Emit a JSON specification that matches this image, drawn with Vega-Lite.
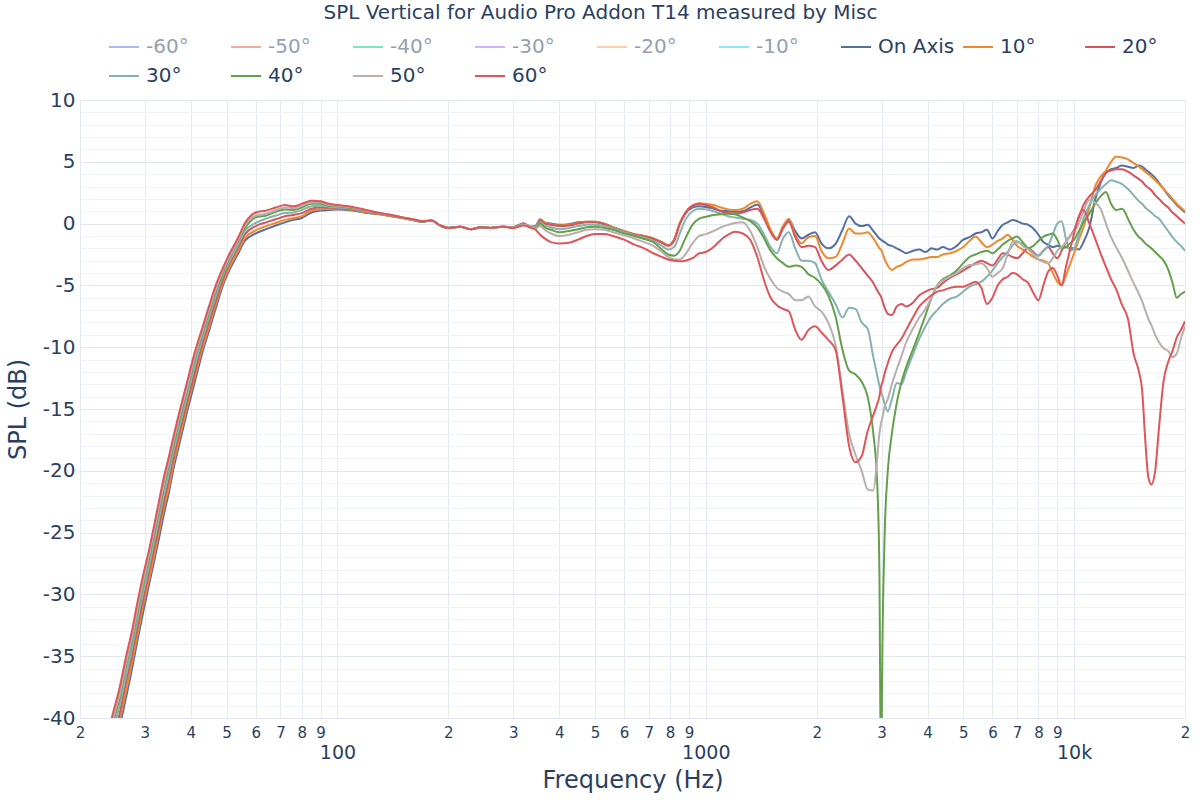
{
  "$schema": "https://vega.github.io/schema/vega-lite/v6.json",
  "width": 1105,
  "height": 618,
  "autosize": {"type": "none"},
  "padding": {"left": 80, "top": 100, "right": 15, "bottom": 82},
  "background": "white",
  "view": {"stroke": null},
  "title": {
    "text": "SPL Vertical for Audio Pro Addon T14 measured by Misc",
    "font": "DejaVu Sans",
    "fontSize": 20,
    "fontWeight": "normal",
    "color": "#2a3f5f",
    "anchor": "middle",
    "frame": "group",
    "dx": -32,
    "offset": 8
  },
  "data": {
    "values": [
      {"f": 22, "On Axis": -50, "10°": -49.5, "20°": -49.0, "30°": -48.4, "40°": -47.8, "50°": -47.5, "60°": -47.0},
      {"f": 24.4, "On Axis": -43.5, "10°": -43.0, "20°": -42.3, "30°": -41.6, "40°": -40.9, "50°": -40.5, "60°": -40.0},
      {"f": 25.6, "On Axis": -40.8, "10°": -40.3, "20°": -39.7, "30°": -39.0, "40°": -38.4, "50°": -38.1, "60°": -37.6},
      {"f": 26.6, "On Axis": -38.5, "10°": -38.0, "20°": -37.3, "30°": -36.7, "40°": -36.0, "50°": -35.7, "60°": -35.2},
      {"f": 27.7, "On Axis": -36.0, "10°": -35.5, "20°": -34.9, "30°": -34.3, "40°": -33.7, "50°": -33.4, "60°": -32.9},
      {"f": 28.7, "On Axis": -33.6, "10°": -33.1, "20°": -32.5, "30°": -31.9, "40°": -31.3, "50°": -31.0, "60°": -30.5},
      {"f": 29.7, "On Axis": -31.4, "10°": -30.9, "20°": -30.4, "30°": -29.8, "40°": -29.2, "50°": -28.9, "60°": -28.4},
      {"f": 30.8, "On Axis": -29.2, "10°": -28.8, "20°": -28.2, "30°": -27.7, "40°": -27.1, "50°": -26.8, "60°": -26.4},
      {"f": 31.8, "On Axis": -27.3, "10°": -26.9, "20°": -26.3, "30°": -25.7, "40°": -25.1, "50°": -24.8, "60°": -24.4},
      {"f": 32.8, "On Axis": -25.4, "10°": -24.9, "20°": -24.4, "30°": -23.8, "40°": -23.2, "50°": -22.9, "60°": -22.4},
      {"f": 33.8, "On Axis": -23.5, "10°": -23.0, "20°": -22.5, "30°": -21.9, "40°": -21.3, "50°": -21.0, "60°": -20.5},
      {"f": 34.9, "On Axis": -21.7, "10°": -21.3, "20°": -20.7, "30°": -20.1, "40°": -19.5, "50°": -19.2, "60°": -18.8},
      {"f": 35.9, "On Axis": -19.8, "10°": -19.4, "20°": -18.9, "30°": -18.4, "40°": -17.9, "50°": -17.6, "60°": -17.2},
      {"f": 36.9, "On Axis": -18.3, "10°": -17.9, "20°": -17.4, "30°": -16.9, "40°": -16.4, "50°": -16.1, "60°": -15.7},
      {"f": 39, "On Axis": -15.3, "10°": -14.9, "20°": -14.5, "30°": -14.0, "40°": -13.5, "50°": -13.3, "60°": -12.9},
      {"f": 41, "On Axis": -12.8, "10°": -12.4, "20°": -12.0, "30°": -11.5, "40°": -11.0, "50°": -10.8, "60°": -10.4},
      {"f": 43, "On Axis": -10.4, "10°": -10.1, "20°": -9.7, "30°": -9.3, "40°": -8.9, "50°": -8.7, "60°": -8.4},
      {"f": 45, "On Axis": -8.5, "10°": -8.2, "20°": -7.8, "30°": -7.4, "40°": -7.0, "50°": -6.8, "60°": -6.5},
      {"f": 47, "On Axis": -6.6, "10°": -6.3, "20°": -6.0, "30°": -5.6, "40°": -5.3, "50°": -5.1, "60°": -4.8},
      {"f": 49, "On Axis": -4.9, "10°": -4.7, "20°": -4.4, "30°": -4.1, "40°": -3.9, "50°": -3.7, "60°": -3.5},
      {"f": 51, "On Axis": -3.7, "10°": -3.5, "20°": -3.2, "30°": -3.0, "40°": -2.7, "50°": -2.6, "60°": -2.4},
      {"f": 53.8, "On Axis": -2.4, "10°": -2.2, "20°": -1.9, "30°": -1.7, "40°": -1.4, "50°": -1.3, "60°": -1.1},
      {"f": 56, "On Axis": -1.4, "10°": -1.2, "20°": -0.9, "30°": -0.6, "40°": -0.4, "50°": -0.2, "60°": 0.0},
      {"f": 60, "On Axis": -0.8, "10°": -0.55, "20°": -0.2, "30°": 0.05, "40°": 0.5, "50°": 0.65, "60°": 0.9},
      {"f": 64, "On Axis": -0.45, "10°": -0.2, "20°": 0.1, "30°": 0.4, "40°": 0.65, "50°": 0.8, "60°": 1.05},
      {"f": 68, "On Axis": -0.15, "10°": 0.05, "20°": 0.35, "30°": 0.65, "40°": 0.95, "50°": 1.1, "60°": 1.3},
      {"f": 72, "On Axis": 0.1, "10°": 0.3, "20°": 0.6, "30°": 0.85, "40°": 1.15, "50°": 1.3, "60°": 1.5},
      {"f": 76, "On Axis": 0.3, "10°": 0.45, "20°": 0.7, "30°": 0.9, "40°": 1.1, "50°": 1.25, "60°": 1.4},
      {"f": 80, "On Axis": 0.45, "10°": 0.6, "20°": 0.85, "30°": 1.1, "40°": 1.3, "50°": 1.45, "60°": 1.6},
      {"f": 85, "On Axis": 0.9, "10°": 1.05, "20°": 1.2, "30°": 1.4, "40°": 1.6, "50°": 1.7, "60°": 1.85},
      {"f": 90, "On Axis": 1.05, "10°": 1.15, "20°": 1.3, "30°": 1.45, "40°": 1.6, "50°": 1.7, "60°": 1.8},
      {"f": 95, "On Axis": 1.1, "10°": 1.2, "20°": 1.3, "30°": 1.35, "40°": 1.45, "50°": 1.5, "60°": 1.6},
      {"f": 100, "On Axis": 1.15, "10°": 1.2, "20°": 1.25, "30°": 1.3, "40°": 1.4, "50°": 1.45, "60°": 1.5},
      {"f": 110, "On Axis": 1.05, "10°": 1.1, "20°": 1.15, "30°": 1.2, "40°": 1.25, "50°": 1.3, "60°": 1.35},
      {"f": 120, "On Axis": 0.85, "10°": 0.9, "20°": 0.95, "30°": 1.0, "40°": 1.05, "50°": 1.05, "60°": 1.1},
      {"f": 130, "On Axis": 0.75, "10°": 0.75, "20°": 0.8, "30°": 0.8, "40°": 0.85, "50°": 0.85, "60°": 0.85},
      {"f": 140, "On Axis": 0.6, "10°": 0.6, "20°": 0.65, "30°": 0.65, "40°": 0.65, "50°": 0.7, "60°": 0.7},
      {"f": 150, "On Axis": 0.45, "10°": 0.45, "20°": 0.5, "30°": 0.5, "40°": 0.5, "50°": 0.5, "60°": 0.5},
      {"f": 160, "On Axis": 0.3, "10°": 0.3, "20°": 0.3, "30°": 0.3, "40°": 0.35, "50°": 0.35, "60°": 0.35},
      {"f": 170, "On Axis": 0.15, "10°": 0.15, "20°": 0.15, "30°": 0.15, "40°": 0.15, "50°": 0.2, "60°": 0.2},
      {"f": 180, "On Axis": 0.25, "10°": 0.25, "20°": 0.25, "30°": 0.25, "40°": 0.25, "50°": 0.25, "60°": 0.25},
      {"f": 190, "On Axis": -0.15, "10°": -0.15, "20°": -0.15, "30°": -0.15, "40°": -0.15, "50°": -0.15, "60°": -0.15},
      {"f": 200, "On Axis": -0.35, "10°": -0.35, "20°": -0.35, "30°": -0.35, "40°": -0.35, "50°": -0.35, "60°": -0.35},
      {"f": 215, "On Axis": -0.25, "10°": -0.25, "20°": -0.25, "30°": -0.25, "40°": -0.25, "50°": -0.25, "60°": -0.25},
      {"f": 230, "On Axis": -0.45, "10°": -0.45, "20°": -0.45, "30°": -0.45, "40°": -0.45, "50°": -0.45, "60°": -0.45},
      {"f": 245, "On Axis": -0.3, "10°": -0.3, "20°": -0.3, "30°": -0.3, "40°": -0.3, "50°": -0.3, "60°": -0.3},
      {"f": 260, "On Axis": -0.35, "10°": -0.35, "20°": -0.35, "30°": -0.35, "40°": -0.35, "50°": -0.35, "60°": -0.35},
      {"f": 280, "On Axis": -0.25, "10°": -0.25, "20°": -0.25, "30°": -0.25, "40°": -0.25, "50°": -0.25, "60°": -0.25},
      {"f": 300, "On Axis": -0.3, "10°": -0.3, "20°": -0.3, "30°": -0.3, "40°": -0.3, "50°": -0.3, "60°": -0.35},
      {"f": 320, "On Axis": 0.0, "10°": 0.0, "20°": 0.0, "30°": -0.05, "40°": -0.05, "50°": -0.1, "60°": -0.15},
      {"f": 335, "On Axis": -0.25, "10°": -0.25, "20°": -0.25, "30°": -0.25, "40°": -0.3, "50°": -0.3, "60°": -0.35},
      {"f": 345, "On Axis": -0.2, "10°": -0.2, "20°": -0.25, "30°": -0.3, "40°": -0.35, "50°": -0.4, "60°": -0.5},
      {"f": 355, "On Axis": 0.35, "10°": 0.3, "20°": 0.25, "30°": 0.1, "40°": 0.0, "50°": -0.2, "60°": -0.9},
      {"f": 365, "On Axis": 0.1, "10°": 0.1, "20°": 0.0, "30°": -0.15, "40°": -0.3, "50°": -0.5, "60°": -1.2},
      {"f": 380, "On Axis": 0.0, "10°": -0.05, "20°": -0.1, "30°": -0.3, "40°": -0.5, "50°": -0.8, "60°": -1.5},
      {"f": 400, "On Axis": -0.1, "10°": -0.15, "20°": -0.2, "30°": -0.45, "40°": -0.7, "50°": -1.0, "60°": -1.6},
      {"f": 425, "On Axis": -0.05, "10°": -0.1, "20°": -0.15, "30°": -0.35, "40°": -0.6, "50°": -0.9, "60°": -1.55},
      {"f": 450, "On Axis": 0.1, "10°": 0.05, "20°": 0.0, "30°": -0.2, "40°": -0.45, "50°": -0.7, "60°": -1.3},
      {"f": 475, "On Axis": 0.15, "10°": 0.15, "20°": 0.1, "30°": -0.1, "40°": -0.3, "50°": -0.5, "60°": -1.0},
      {"f": 500, "On Axis": 0.15, "10°": 0.15, "20°": 0.1, "30°": -0.1, "40°": -0.25, "50°": -0.45, "60°": -0.85},
      {"f": 530, "On Axis": 0.0, "10°": 0.0, "20°": -0.05, "30°": -0.2, "40°": -0.35, "50°": -0.5, "60°": -0.85},
      {"f": 560, "On Axis": -0.3, "10°": -0.3, "20°": -0.35, "30°": -0.4, "40°": -0.5, "50°": -0.7, "60°": -1.0},
      {"f": 600, "On Axis": -0.6, "10°": -0.6, "20°": -0.65, "30°": -0.7, "40°": -0.8, "50°": -0.95, "60°": -1.3},
      {"f": 640, "On Axis": -0.85, "10°": -0.85, "20°": -0.9, "30°": -0.95, "40°": -1.0, "50°": -1.2, "60°": -1.7},
      {"f": 680, "On Axis": -1.0, "10°": -1.0, "20°": -1.05, "30°": -1.15, "40°": -1.25, "50°": -1.5, "60°": -2.0},
      {"f": 720, "On Axis": -1.2, "10°": -1.2, "20°": -1.25, "30°": -1.4, "40°": -1.5, "50°": -1.8, "60°": -2.4},
      {"f": 760, "On Axis": -1.5, "10°": -1.5, "20°": -1.55, "30°": -1.8, "40°": -2.1, "50°": -2.3, "60°": -2.7},
      {"f": 790, "On Axis": -1.75, "10°": -1.75, "20°": -1.8, "30°": -2.1, "40°": -2.5, "50°": -2.7, "60°": -2.9},
      {"f": 820, "On Axis": -1.3, "10°": -1.3, "20°": -1.4, "30°": -1.9, "40°": -2.6, "50°": -2.9, "60°": -3.0},
      {"f": 850, "On Axis": 0.0, "10°": 0.05, "20°": -0.05, "30°": -0.8, "40°": -2.2, "50°": -2.9, "60°": -3.05},
      {"f": 880, "On Axis": 0.8, "10°": 0.9, "20°": 0.85, "30°": 0.3, "40°": -1.2, "50°": -2.5, "60°": -3.0},
      {"f": 920, "On Axis": 1.3, "10°": 1.45, "20°": 1.45, "30°": 1.0, "40°": -0.1, "50°": -1.6, "60°": -2.8},
      {"f": 960, "On Axis": 1.4, "10°": 1.65, "20°": 1.6, "30°": 1.2, "40°": 0.4, "50°": -1.0, "60°": -2.4},
      {"f": 1000, "On Axis": 1.35, "10°": 1.6, "20°": 1.5, "30°": 1.15, "40°": 0.55, "50°": -0.85, "60°": -2.3},
      {"f": 1050, "On Axis": 1.2, "10°": 1.5, "20°": 1.3, "30°": 1.0, "40°": 0.7, "50°": -0.6, "60°": -1.9},
      {"f": 1100, "On Axis": 1.05, "10°": 1.3, "20°": 1.0, "30°": 0.8, "40°": 0.75, "50°": -0.3, "60°": -1.3},
      {"f": 1150, "On Axis": 1.0, "10°": 1.15, "20°": 0.85, "30°": 0.6, "40°": 0.8, "50°": -0.1, "60°": -0.9},
      {"f": 1200, "On Axis": 0.95, "10°": 1.1, "20°": 0.8, "30°": 0.5, "40°": 0.75, "50°": 0.05, "60°": -0.65},
      {"f": 1260, "On Axis": 1.0, "10°": 1.2, "20°": 0.9, "30°": 0.4, "40°": 0.5, "50°": 0.1, "60°": -0.8},
      {"f": 1320, "On Axis": 1.3, "10°": 1.6, "20°": 1.1, "30°": 0.3, "40°": 0.2, "50°": -0.6, "60°": -1.3},
      {"f": 1380, "On Axis": 1.55, "10°": 1.8, "20°": 1.2, "30°": 0.0, "40°": -0.3, "50°": -1.9, "60°": -2.7},
      {"f": 1440, "On Axis": 0.6, "10°": 0.8, "20°": 0.4, "30°": -0.9, "40°": -1.2, "50°": -3.5, "60°": -4.6},
      {"f": 1500, "On Axis": -0.6, "10°": -0.5, "20°": -0.7, "30°": -1.9, "40°": -2.2, "50°": -4.5, "60°": -6.0},
      {"f": 1560, "On Axis": -1.3, "10°": -1.2, "20°": -1.3, "30°": -2.4, "40°": -2.8, "50°": -5.2, "60°": -6.6},
      {"f": 1620, "On Axis": -0.3, "10°": -0.2, "20°": -0.4, "30°": -1.2, "40°": -3.2, "50°": -5.5, "60°": -6.9},
      {"f": 1680, "On Axis": 0.3, "10°": 0.4, "20°": 0.15, "30°": -0.7, "40°": -3.5, "50°": -5.7, "60°": -7.1},
      {"f": 1750, "On Axis": -0.6, "10°": -0.9, "20°": -1.1, "30°": -2.0, "40°": -3.4, "50°": -6.2, "60°": -8.6},
      {"f": 1820, "On Axis": -1.2, "10°": -1.6, "20°": -1.9, "30°": -3.0, "40°": -3.5, "50°": -6.2, "60°": -9.4},
      {"f": 1900, "On Axis": -0.9, "10°": -1.1, "20°": -1.8, "30°": -3.0, "40°": -4.1, "50°": -5.9, "60°": -8.6},
      {"f": 1980, "On Axis": -0.7, "10°": -1.0, "20°": -1.9, "30°": -3.2, "40°": -4.4, "50°": -6.7, "60°": -8.3},
      {"f": 2060, "On Axis": -1.6, "10°": -2.2, "20°": -3.0, "30°": -4.5, "40°": -4.9, "50°": -7.1, "60°": -8.8},
      {"f": 2150, "On Axis": -2.0, "10°": -2.8, "20°": -3.75, "30°": -5.5, "40°": -5.8, "50°": -8.0, "60°": -9.4},
      {"f": 2250, "On Axis": -1.65, "10°": -2.7, "20°": -3.4, "30°": -6.5, "40°": -7.5, "50°": -9.8, "60°": -10.2},
      {"f": 2350, "On Axis": -0.5, "10°": -1.6, "20°": -2.9, "30°": -7.6, "40°": -10.2, "50°": -13.5, "60°": -14.0},
      {"f": 2450, "On Axis": 0.6, "10°": -0.4, "20°": -2.5, "30°": -6.8, "40°": -11.9, "50°": -17.0, "60°": -18.0},
      {"f": 2550, "On Axis": 0.0, "10°": -0.8, "20°": -3.0, "30°": -6.9, "40°": -12.2, "50°": -18.7, "60°": -19.3},
      {"f": 2650, "On Axis": -0.2, "10°": -0.8, "20°": -3.6, "30°": -8.0, "40°": -12.8, "50°": -20.0, "60°": -18.8},
      {"f": 2750, "On Axis": -0.1, "10°": -0.7, "20°": -4.2, "30°": -8.5, "40°": -14.0, "50°": -21.5, "60°": -16.8},
      {"f": 2850, "On Axis": -0.6, "10°": -1.2, "20°": -4.8, "30°": -10.8, "40°": -17.0, "50°": -21.6, "60°": -15.5},
      {"f": 2920, "On Axis": -1.0, "10°": -1.7, "20°": -5.4, "30°": -12.3, "40°": -21.0, "50°": -19.0, "60°": -14.6},
      {"f": 2960, "On Axis": -1.2, "10°": -2.0, "20°": -5.7, "30°": -13.1, "40°": -28.0, "50°": -17.0, "60°": -14.0},
      {"f": 2990, "On Axis": -1.3, "10°": -2.1, "20°": -5.9, "30°": -13.6, "40°": -45.0, "50°": -16.2, "60°": -13.2},
      {"f": 3020, "On Axis": -1.4, "10°": -2.4, "20°": -6.3, "30°": -14.0, "40°": -33.0, "50°": -15.6, "60°": -12.8},
      {"f": 3060, "On Axis": -1.5, "10°": -2.9, "20°": -6.8, "30°": -14.6, "40°": -25.0, "50°": -14.8, "60°": -12.1},
      {"f": 3120, "On Axis": -1.7, "10°": -3.4, "20°": -7.3, "30°": -15.2, "40°": -20.0, "50°": -14.2, "60°": -11.3},
      {"f": 3200, "On Axis": -1.8, "10°": -3.75, "20°": -7.4, "30°": -14.2, "40°": -17.0, "50°": -13.0, "60°": -10.4},
      {"f": 3300, "On Axis": -2.0, "10°": -3.5, "20°": -6.7, "30°": -12.9, "40°": -14.5, "50°": -11.8, "60°": -9.8},
      {"f": 3400, "On Axis": -2.2, "10°": -3.35, "20°": -6.5, "30°": -13.0, "40°": -12.8, "50°": -10.7, "60°": -9.3},
      {"f": 3500, "On Axis": -2.4, "10°": -3.1, "20°": -6.7, "30°": -12.0, "40°": -11.6, "50°": -9.6, "60°": -8.6},
      {"f": 3650, "On Axis": -2.2, "10°": -2.9, "20°": -6.4, "30°": -10.6, "40°": -10.2, "50°": -8.5, "60°": -7.6},
      {"f": 3800, "On Axis": -2.1, "10°": -2.9, "20°": -5.8, "30°": -9.3, "40°": -8.8, "50°": -7.6, "60°": -6.7},
      {"f": 3950, "On Axis": -2.3, "10°": -2.8, "20°": -5.5, "30°": -8.3, "40°": -7.4, "50°": -6.9, "60°": -6.2},
      {"f": 4100, "On Axis": -2.0, "10°": -2.7, "20°": -5.3, "30°": -7.5, "40°": -6.0, "50°": -6.0, "60°": -5.8},
      {"f": 4250, "On Axis": -2.1, "10°": -2.7, "20°": -5.2, "30°": -7.0, "40°": -5.0, "50°": -5.0, "60°": -5.5},
      {"f": 4400, "On Axis": -1.9, "10°": -2.5, "20°": -4.8, "30°": -6.5, "40°": -4.5, "50°": -4.6, "60°": -5.4},
      {"f": 4600, "On Axis": -2.1, "10°": -2.4, "20°": -4.4, "30°": -6.1, "40°": -4.2, "50°": -4.3, "60°": -5.2},
      {"f": 4800, "On Axis": -1.8, "10°": -2.2, "20°": -4.1, "30°": -5.9, "40°": -3.8, "50°": -4.0, "60°": -5.1},
      {"f": 5000, "On Axis": -1.3, "10°": -1.9, "20°": -3.8, "30°": -5.5, "40°": -3.2, "50°": -3.6, "60°": -5.1},
      {"f": 5200, "On Axis": -1.1, "10°": -1.4, "20°": -3.5, "30°": -5.1, "40°": -2.7, "50°": -3.35, "60°": -4.9},
      {"f": 5400, "On Axis": -0.8, "10°": -1.05, "20°": -3.2, "30°": -4.9, "40°": -2.5, "50°": -3.3, "60°": -4.7},
      {"f": 5600, "On Axis": -0.7, "10°": -1.5, "20°": -3.0, "30°": -4.7, "40°": -2.3, "50°": -3.2, "60°": -5.2},
      {"f": 5800, "On Axis": -0.5, "10°": -1.9, "20°": -3.2, "30°": -4.3, "40°": -2.2, "50°": -3.6, "60°": -6.5},
      {"f": 6000, "On Axis": -1.2, "10°": -1.7, "20°": -3.4, "30°": -3.8, "40°": -2.4, "50°": -4.3, "60°": -6.0},
      {"f": 6200, "On Axis": -0.6, "10°": -1.4, "20°": -2.9, "30°": -3.2, "40°": -2.1, "50°": -4.0, "60°": -5.0},
      {"f": 6400, "On Axis": -0.1, "10°": -1.2, "20°": -2.4, "30°": -2.7, "40°": -1.7, "50°": -3.6, "60°": -4.5},
      {"f": 6600, "On Axis": 0.1, "10°": -0.9, "20°": -2.5, "30°": -2.3, "40°": -1.4, "50°": -2.5, "60°": -4.3},
      {"f": 6800, "On Axis": 0.3, "10°": -1.3, "20°": -2.7, "30°": -1.8, "40°": -1.2, "50°": -1.5, "60°": -4.0},
      {"f": 7000, "On Axis": 0.2, "10°": -1.8, "20°": -2.8, "30°": -1.5, "40°": -1.05, "50°": -1.4, "60°": -4.1},
      {"f": 7250, "On Axis": 0.0, "10°": -2.1, "20°": -2.4, "30°": -1.6, "40°": -1.5, "50°": -1.8, "60°": -4.5},
      {"f": 7500, "On Axis": -0.1, "10°": -2.4, "20°": -2.0, "30°": -2.0, "40°": -2.0, "50°": -2.1, "60°": -4.8},
      {"f": 7750, "On Axis": -0.4, "10°": -2.7, "20°": -2.3, "30°": -2.4, "40°": -1.8, "50°": -2.5, "60°": -5.6},
      {"f": 8000, "On Axis": -0.9, "10°": -2.9, "20°": -2.6, "30°": -2.6, "40°": -1.4, "50°": -2.9, "60°": -6.2},
      {"f": 8250, "On Axis": -1.5, "10°": -3.0, "20°": -2.2, "30°": -2.2, "40°": -1.05, "50°": -3.1, "60°": -5.0},
      {"f": 8500, "On Axis": -1.7, "10°": -3.2, "20°": -1.9, "30°": -1.8, "40°": -0.9, "50°": -3.2, "60°": -3.9},
      {"f": 8750, "On Axis": -1.9, "10°": -4.0, "20°": -2.4, "30°": -0.9, "40°": -0.8, "50°": -2.8, "60°": -3.6},
      {"f": 9000, "On Axis": -1.8, "10°": -4.7, "20°": -2.8, "30°": 0.0, "40°": -1.3, "50°": -2.2, "60°": -4.2},
      {"f": 9250, "On Axis": -1.9, "10°": -5.0, "20°": -2.2, "30°": 0.2, "40°": -2.0, "50°": -1.9, "60°": -5.0},
      {"f": 9500, "On Axis": -1.9, "10°": -4.2, "20°": -1.5, "30°": -1.2, "40°": -1.9, "50°": -1.5, "60°": -3.5},
      {"f": 9750, "On Axis": -2.0, "10°": -3.3, "20°": -1.0, "30°": -2.2, "40°": -1.6, "50°": -1.05, "60°": -2.1},
      {"f": 10000, "On Axis": -2.0, "10°": -2.4, "20°": -0.5, "30°": -2.0, "40°": -1.3, "50°": -0.6, "60°": -0.8},
      {"f": 10300, "On Axis": -2.1, "10°": -1.3, "20°": 0.5, "30°": -0.9, "40°": -0.6, "50°": 0.0, "60°": 0.6},
      {"f": 10600, "On Axis": -1.5, "10°": -0.3, "20°": 1.5, "30°": 0.4, "40°": 0.1, "50°": 1.0, "60°": 1.1},
      {"f": 11000, "On Axis": -0.3, "10°": 1.3, "20°": 2.2, "30°": 1.5, "40°": 0.8, "50°": 1.9, "60°": 0.0},
      {"f": 11400, "On Axis": 1.9, "10°": 3.0, "20°": 2.7, "30°": 2.3, "40°": 1.6, "50°": 1.7, "60°": -1.2},
      {"f": 11800, "On Axis": 3.3, "10°": 3.8, "20°": 3.4, "30°": 2.8, "40°": 2.2, "50°": 1.2, "60°": -2.4},
      {"f": 12200, "On Axis": 4.1, "10°": 4.3, "20°": 4.1, "30°": 3.2, "40°": 2.55, "50°": 0.0, "60°": -3.5},
      {"f": 12600, "On Axis": 4.4, "10°": 5.0, "20°": 4.3, "30°": 3.5, "40°": 1.6, "50°": -1.1, "60°": -4.5},
      {"f": 13000, "On Axis": 4.5, "10°": 5.4, "20°": 4.4, "30°": 3.4, "40°": 1.1, "50°": -1.9, "60°": -5.3},
      {"f": 13500, "On Axis": 4.7, "10°": 5.35, "20°": 4.4, "30°": 3.2, "40°": 1.2, "50°": -2.8, "60°": -6.6},
      {"f": 14000, "On Axis": 4.6, "10°": 5.2, "20°": 4.2, "30°": 2.8, "40°": 0.4, "50°": -3.8, "60°": -7.7},
      {"f": 14500, "On Axis": 4.5, "10°": 4.9, "20°": 3.9, "30°": 2.3, "40°": -0.5, "50°": -4.8, "60°": -10.5},
      {"f": 15000, "On Axis": 4.7, "10°": 4.6, "20°": 3.6, "30°": 1.8, "40°": -1.1, "50°": -5.7, "60°": -12.0},
      {"f": 15300, "On Axis": 4.6, "10°": 4.4, "20°": 3.4, "30°": 1.6, "40°": -1.3, "50°": -6.3, "60°": -13.5},
      {"f": 15600, "On Axis": 4.4, "10°": 4.2, "20°": 3.1, "30°": 1.3, "40°": -1.6, "50°": -7.0, "60°": -17.5},
      {"f": 15900, "On Axis": 4.2, "10°": 4.0, "20°": 2.9, "30°": 1.1, "40°": -1.8, "50°": -7.7, "60°": -20.5},
      {"f": 16200, "On Axis": 4.0, "10°": 3.8, "20°": 2.7, "30°": 0.9, "40°": -2.0, "50°": -8.2, "60°": -21.1},
      {"f": 16600, "On Axis": 3.7, "10°": 3.5, "20°": 2.3, "30°": 0.6, "40°": -2.3, "50°": -9.0, "60°": -20.0},
      {"f": 17000, "On Axis": 3.3, "10°": 3.2, "20°": 2.0, "30°": 0.4, "40°": -2.6, "50°": -9.6, "60°": -16.5},
      {"f": 17500, "On Axis": 2.8, "10°": 2.8, "20°": 1.6, "30°": -0.1, "40°": -3.0, "50°": -10.1, "60°": -12.7},
      {"f": 18000, "On Axis": 2.3, "10°": 2.4, "20°": 1.3, "30°": -0.6, "40°": -3.7, "50°": -10.3, "60°": -11.2},
      {"f": 18500, "On Axis": 1.9, "10°": 2.0, "20°": 0.9, "30°": -1.1, "40°": -4.8, "50°": -10.8, "60°": -10.3},
      {"f": 19000, "On Axis": 1.5, "10°": 1.6, "20°": 0.6, "30°": -1.5, "40°": -6.0, "50°": -10.5, "60°": -9.2},
      {"f": 19500, "On Axis": 1.2, "10°": 1.3, "20°": 0.3, "30°": -1.8, "40°": -5.7, "50°": -9.3, "60°": -8.6},
      {"f": 20000, "On Axis": 0.9, "10°": 1.0, "20°": 0.0, "30°": -2.2, "40°": -5.5, "50°": -8.3, "60°": -7.9}
    ]
  },
  "transform": [
    {"fold": ["On Axis", "10°", "20°", "30°", "40°", "50°", "60°"], "as": ["angle", "spl"]}
  ],
  "mark": {"type": "line", "strokeWidth": 2, "clip": true, "interpolate": "monotone"},
  "encoding": {
    "x": {
      "field": "f",
      "type": "quantitative",
      "scale": {"type": "log", "domain": [20, 20000], "nice": false},
      "axis": {
        "title": "Frequency (Hz)",
        "titleFont": "DejaVu Sans",
        "titleFontSize": 24,
        "titleFontWeight": "normal",
        "titleColor": "#2a3f5f",
        "titlePadding": 6,
        "values": [20, 30, 40, 50, 60, 70, 80, 90, 100, 200, 300, 400, 500, 600, 700, 800, 900, 1000, 2000, 3000, 4000, 5000, 6000, 7000, 8000, 9000, 10000, 20000],
        "labelExpr": "datum.value == 100 ? ['', '100'] : datum.value == 1000 ? ['', '1000'] : datum.value == 10000 ? ['', '10k'] : substring(toString(datum.value), 0, 1)",
        "labelFont": "DejaVu Sans",
        "labelFontSize": {"condition": {"test": "datum.value == 100 || datum.value == 1000 || datum.value == 10000", "value": 19}, "value": 15},
        "labelLineHeight": 18,
        "labelColor": "#2a3f5f",
        "labelPadding": 7,
        "labelOverlap": false,
        "labelFlush": false,
        "ticks": false,
        "domain": false,
        "grid": true,
        "gridColor": "#e4eaf2",
        "gridWidth": 1
      }
    },
    "y": {
      "field": "spl",
      "type": "quantitative",
      "scale": {"domain": [-40, 10], "nice": false, "zero": false},
      "axis": {
        "title": "SPL (dB)",
        "titleFont": "DejaVu Sans",
        "titleFontSize": 24,
        "titleFontWeight": "normal",
        "titleColor": "#2a3f5f",
        "titlePadding": 12,
        "values": [-40, -39, -38, -37, -36, -35, -34, -33, -32, -31, -30, -29, -28, -27, -26, -25, -24, -23, -22, -21, -20, -19, -18, -17, -16, -15, -14, -13, -12, -11, -10, -9, -8, -7, -6, -5, -4, -3, -2, -1, 0, 1, 2, 3, 4, 5, 6, 7, 8, 9, 10],
        "labelExpr": "datum.value % 5 == 0 ? toString(datum.value) : ''",
        "labelFont": "DejaVu Sans",
        "labelFontSize": 20,
        "labelColor": "#2a3f5f",
        "labelPadding": 5,
        "labelOverlap": false,
        "labelFlush": false,
        "ticks": false,
        "domain": false,
        "grid": true,
        "gridColor": {"condition": {"test": "datum.value % 5 == 0", "value": "#e1e7ef"}, "value": "#eff2f7"},
        "gridWidth": 1
      }
    },
    "color": {
      "field": "angle",
      "type": "nominal",
      "scale": {
        "domain": ["-60°", "-50°", "-40°", "-30°", "-20°", "-10°", "On Axis", "10°", "20°", "30°", "40°", "50°", "60°"],
        "range": ["#636efa", "#EF553B", "#00cc96", "#ab63fa", "#FFA15A", "#19d3f3", "#5470a0", "#ec8a2c", "#d4555c", "#86b2b0", "#64a04c", "#b8afac", "#e0555a"]
      },
      "legend": {
        "orient": "none",
        "legendX": 28,
        "legendY": -69,
        "direction": "horizontal",
        "columns": 9,
        "gridAlign": "all",
        "title": null,
        "symbolType": "stroke",
        "symbolSize": 900,
        "symbolStrokeWidth": 2,
        "labelFont": "DejaVu Sans",
        "labelFontSize": 20,
        "labelColor": "#2a3f5f",
        "labelOffset": 6,
        "labelLimit": 300,
        "columnPadding": 4,
        "rowPadding": 3,
        "encode": {
          "labels": {"update": {"fill": {"signal": "indexof(['-60°','-50°','-40°','-30°','-20°','-10°'], datum.value) >= 0 ? '#959fb0' : '#2a3f5f'"}}},
          "symbols": {"update": {"opacity": {"signal": "indexof(['-60°','-50°','-40°','-30°','-20°','-10°'], datum.value) >= 0 ? 0.5 : 1"}}}
        }
      }
    }
  }
}
